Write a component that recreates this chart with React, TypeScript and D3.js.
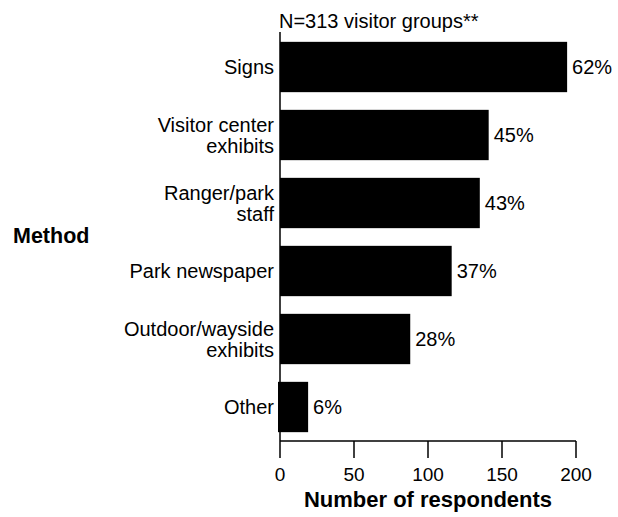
import * as d3 from "d3";
import React from "react";

const categories = [
  ["Signs"],
  ["Visitor center", "exhibits"],
  ["Ranger/park", "staff"],
  ["Park newspaper"],
  ["Outdoor/wayside", "exhibits"],
  ["Other"],
];
const counts = [194, 141, 135, 116, 88, 19];
const percents = ["62%", "45%", "43%", "37%", "28%", "6%"];
const xTicks = [0, 50, 100, 150, 200];

const W = 618;
const H = 517;
const FONT = "'Liberation Sans', Arial, sans-serif";
const LABEL_SIZE = 20;
const LINE_GAP = 21;

export default function App() {
  const x = d3.scaleLinear().domain([0, 200]).range([280, 576]);
  const y = d3
    .scaleBand<number>()
    .domain(d3.range(categories.length))
    .range([33, 441])
    .paddingInner(0.26)
    .paddingOuter(0.13);

  const axisY = 441;
  const last = counts.length - 1;

  return (
    <svg
      width={W}
      height={H}
      style={{ position: "absolute", left: 0, top: 0, background: "#fff" }}
      fontFamily={FONT}
    >
      <text x={279} y={28} fontSize={LABEL_SIZE}>
        N=313 visitor groups**
      </text>

      {/* bars, value labels and category labels */}
      {counts.map((v, i) => {
        const cy = (y(i) ?? 0) + y.bandwidth() / 2;
        const lines = categories[i];
        const firstBase = cy + 7 - ((lines.length - 1) * LINE_GAP) / 2;
        return (
          <g key={i}>
            <rect
              x={i === last ? x(0) - 2 : x(0)}
              y={y(i)}
              width={x(v) - x(0) + (i === last ? 2 : 0)}
              height={y.bandwidth()}
              fill="#000"
            />
            <text x={x(v) + 5} y={cy + 7} fontSize={LABEL_SIZE}>
              {percents[i]}
            </text>
            <text textAnchor="end" fontSize={LABEL_SIZE}>
              {lines.map((line, j) => (
                <tspan key={j} x={274} y={firstBase + j * LINE_GAP}>
                  {line}
                </tspan>
              ))}
            </text>
          </g>
        );
      })}

      {/* y axis line */}
      <line x1={280} x2={280} y1={32} y2={axisY} stroke="#000" strokeWidth={1.5} />

      {/* x axis */}
      <line x1={x(0)} x2={x(200)} y1={axisY} y2={axisY} stroke="#000" strokeWidth={1.5} />
      {xTicks.map((t) => (
        <g key={t}>
          <line x1={x(t)} x2={x(t)} y1={axisY} y2={axisY + 17} stroke="#000" strokeWidth={1.5} />
          <text x={x(t)} y={481} textAnchor="middle" fontSize={19}>
            {t}
          </text>
        </g>
      ))}

      <text x={(x(0) + x(200)) / 2} y={507} textAnchor="middle" fontSize={22} fontWeight="bold">
        Number of respondents
      </text>
      <text x={13} y={243} fontSize={21.5} fontWeight="bold">
        Method
      </text>
    </svg>
  );
}
